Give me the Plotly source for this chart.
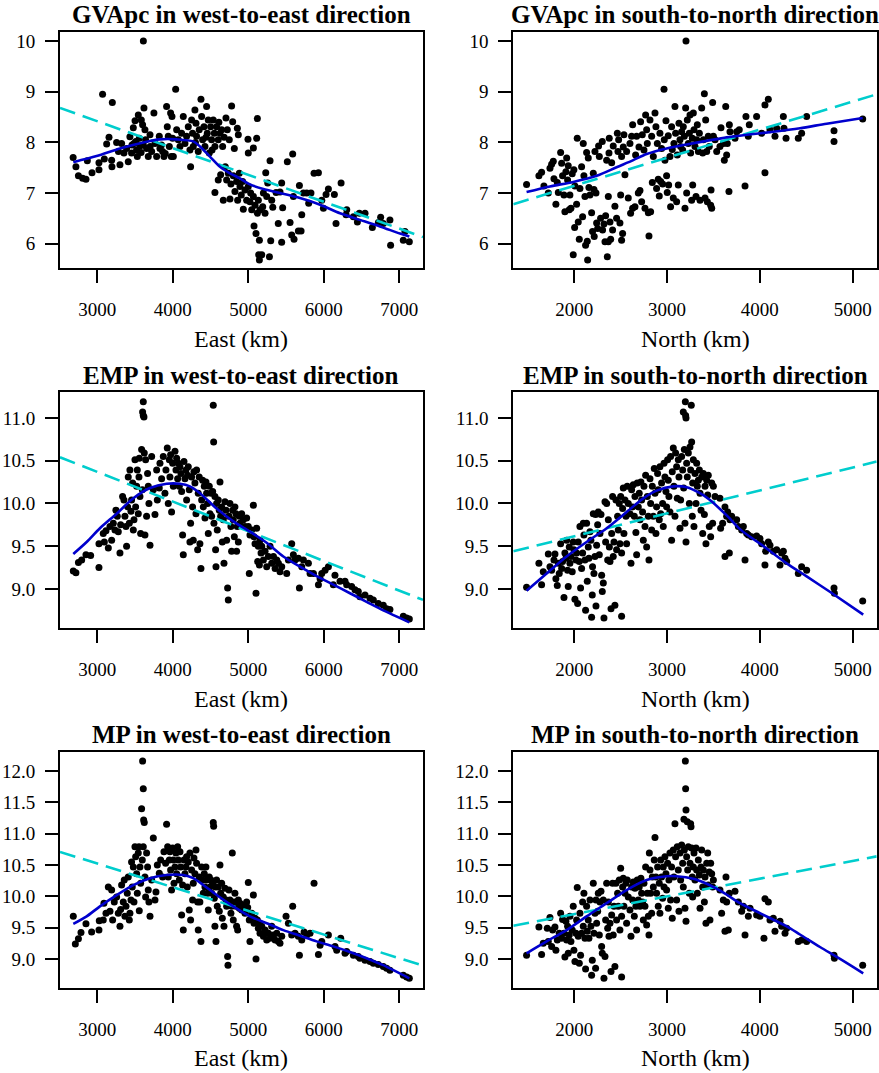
import plotly.graph_objects as go

# ---------------- data ----------------
gva_east = [(2680,7.70),(2717,7.52),(2750,7.34),(2806,7.29),(2850,7.27),(2868,7.64),(2930,7.40),(3022,7.60),(3022,7.46),(3070,8.95),(3093,7.67),(3124,7.97),(3155,8.10),(3190,7.65),(3194,7.52),(3199,8.79),(3256,8.00),(3280,7.82),(3300,7.56),
(3322,7.98),(3353,7.79),(3388,7.88),(3410,7.62),(3432,8.11),(3454,7.79),(3477,8.29),(3486,7.98),(3500,8.43),(3520,7.85),(3530,7.72),(3543,8.54),(3556,8.08),(3565,7.93),(3583,8.44),(3600,8.35),(3610,10.0),(3618,8.68),(3631,8.25),(3640,8.05),(3653,7.88),(3675,7.72),(3698,8.15),(3720,7.82),(3750,8.58),(3764,7.98),(3786,7.72),(3821,8.12),(3830,7.88),(3865,7.82),(3883,7.72),(3918,8.71),(3927,8.31),(3940,8.12),(3954,7.92),(3971,8.58),(3980,7.72),(3989,8.51),(3998,8.08),(4007,7.72),(4038,9.05),
(3460,7.95),(3510,8.02),(3580,7.80),(3610,7.95),(3700,7.92),(3850,7.95),(3900,7.78),
(4051,8.25),(4073,8.05),(4095,7.92),(4117,8.18),(4139,8.51),(4161,7.98),(4183,8.12),(4205,8.31),(4227,7.85),(4236,7.52),(4249,8.44),(4262,8.18),(4271,7.92),(4293,8.64),(4307,8.38),(4315,8.12),(4337,7.82),(4350,8.25),(4373,8.85),(4382,8.51),(4395,8.05),(4413,8.31),(4426,7.92),(4448,8.71),(4457,8.18),(4470,8.44),(4483,7.79),(4501,8.31),(4514,8.05),(4536,8.44),(4550,8.18),(4558,7.92),(4580,8.31),(4602,8.05),(4625,8.18),(4647,8.25),(4660,7.92),(4704,8.48),(4722,8.25),(4748,8.05),(4779,8.72),(4793,8.41),(4815,7.88),(4855,8.28),(4868,8.15),
(4300,8.00),(4440,8.10),(4520,7.85),(4610,8.40),(4680,8.10),
(4558,7.01),(4602,7.26),(4634,7.36),(4669,6.86),(4695,7.52),(4713,7.26),(4735,7.39),(4757,6.88),(4770,7.18),(4801,7.34),(4823,7.03),(4845,7.23),(4859,6.86),(4881,7.39),(4890,7.13),(4907,6.96),(4925,7.23),(4934,6.68),(4956,7.06),(4978,6.86),(5000,7.13),(5022,6.83),(5031,7.00),(5045,6.67),(5067,6.93),(5076,6.35),(5089,6.76),(5102,6.20),(5120,6.60),(5133,6.86),(5147,6.07),(5155,6.67),(5138,5.78),(5147,5.68),(5178,5.78),(5191,6.73),(5200,7.00),(5222,6.60),(5231,7.40),(5244,6.93),(5257,7.20),(5280,5.74),(5288,7.64),(5297,6.06),(5310,6.86),(5324,6.72),(5368,7.01),
(4996,8.06),(5000,7.79),(5067,7.89),(5111,8.08),(5120,8.47),
(5397,6.40),(5420,7.02),(5442,7.20),(5442,6.03),(5455,6.71),(5517,7.62),(5553,6.42),(5575,6.17),(5588,7.77),(5597,6.93),(5606,6.09),(5663,6.25),(5677,7.15),(5699,6.25),(5708,6.57),(5730,7.00),(5774,7.00),(5800,6.80),(5830,7.00),(5871,7.39),(5929,7.40),(5973,6.86),(5995,6.70),(6030,6.97),(6061,7.08),(6140,6.97),(6162,6.40),(6229,7.20),(6295,6.57),(6304,6.67),(6392,6.53),(6445,6.43),(6471,6.60),(6546,6.60),(6643,6.32),(6723,6.42),(6753,6.52),(6788,6.40),(6876,6.47),(6885,5.97),(7053,6.07),(7075,6.24),(7133,6.04)]
gva_east_fit = [10.008, -0.00053]  # intercept, slope
gva_east_smooth = [(2682,7.61),(2991,7.73),(3300,7.88),(3609,8.00),(3830,8.06),(4051,8.06),(4271,8.02),(4360,7.92),(4492,7.72),(4625,7.52),(4757,7.39),(4890,7.29),(5022,7.17),(5200,7.08),(5420,7.00),(5685,6.90),(5950,6.77),(6215,6.60),(6480,6.47),(6744,6.34),(7009,6.20),(7133,6.14)]

gva_north = [(1486,7.17),(1619,7.34),(1648,7.41),(1673,7.14),(1720,7.00),(1738,7.49),(1756,7.57),(1774,7.63),(1781,7.28),(1802,6.78),(1817,7.21),(1828,7.01),(1853,7.80),(1864,7.59),(1874,7.34),(1889,6.96),(1899,6.63),(1910,7.42),(1918,7.69),(1928,7.26),(1935,7.54),(1946,6.67),(1953,6.96),(1964,6.70),(1978,7.38),(1989,5.78),(1996,7.46),(2004,6.32),(2007,7.14),(2025,6.78),(2032,8.08),(2043,6.43),(2054,6.09),(2061,7.09),(2079,7.52),(2090,6.53),(2097,7.98),(2104,7.34),(2115,6.93),(2122,5.97),(2133,7.80),(2140,6.05),(2144,5.68),(2151,7.69),(2158,7.11),(2169,6.96),(2187,6.61),(2197,6.24),(2205,7.39),(2212,7.07),(2215,6.14),(2223,7.82),(2234,7.00),(2241,6.41),(2252,6.30),(2262,7.93),(2270,7.72),(2284,6.50),(2302,8.02),(2305,6.27),(2320,6.39),(2331,6.04),(2338,6.55),(2349,7.65),(2356,5.74),(2367,6.93),(2367,6.04),(2374,7.79),(2377,8.08),(2385,6.43),(2392,6.09),(2403,7.60),(2413,6.27),(2420,7.93),(2438,6.74),(2456,6.50),(2464,8.18),(2471,7.82),(2478,8.05),(2492,6.41),(2500,6.96),(2510,6.07),(2510,7.72),(2521,6.20),(2528,7.91),(2535,8.15),(2546,7.36),(2564,7.82),(2582,6.90),(2600,7.98),(2607,6.60),(2618,8.12),(2629,6.70),(2629,8.35),(2654,6.73),(2661,7.75),(2672,8.12),(2690,7.00),(2697,7.91),(2708,7.05),(2715,8.41),(2726,6.83),(2733,8.15),(2751,7.85),(2762,6.70),(2769,8.54),(2780,8.25),(2787,7.98),(2798,6.61),(2805,6.15),(2816,8.44),(2823,6.63),(2834,8.12),(2841,7.21),(2852,7.72),(2870,8.58),(2880,8.31),(2887,7.09),(2895,7.98),(2905,7.27),(2916,6.94),(2923,8.18),(2931,7.23),(2941,7.88),(2952,7.18),(2967,9.05),(2970,8.05),(2977,7.65),(2988,8.43),(2995,7.34),(3002,7.01),(3013,8.13),(3017,7.16),(3031,7.72),(3038,6.73),(3049,8.31),(3056,7.86),(3067,6.90),(3074,7.98),(3085,8.71),(3092,8.18),(3103,6.83),(3110,7.75),(3121,7.16),(3128,8.38),(3139,8.05),(3146,7.92),(3157,8.21),(3168,7.85),(3175,8.31),(3186,8.12),(3193,6.70),(3200,8.68),(3204,10.0),(3211,7.00),(3218,8.44),(3229,7.98),(3240,8.18),(3247,8.54),(3254,7.79),(3265,6.86),(3272,8.08),(3276,7.16),(3283,8.58),(3290,8.25),(3301,7.92),(3312,6.93),(3319,8.05),(3326,8.35),(3337,7.82),(3348,8.18),(3355,6.86),(3373,8.68),(3384,7.79),(3391,8.05),(3402,8.96),(3409,6.90),(3416,8.44),(3427,7.82),(3434,6.83),(3444,8.12),(3455,7.92),(3470,6.76),(3474,7.06),(3481,6.70),(3491,8.79),(3499,8.12),(3517,8.05),(3535,7.82),(3570,7.92),(3581,8.29),(3607,7.98),(3617,7.65),(3632,8.71),(3642,7.75),(3649,7.98),(3667,7.03),(3671,8.35),(3678,8.21),(3732,8.08),(3750,8.21),(3778,8.25),(3840,7.14),(3850,8.51),(3875,8.12),(3886,8.35),(3965,8.51),(4019,8.18),(4055,7.40),(4055,8.74),(4091,8.85),(4109,8.25),(4163,8.12),(4181,8.28),(4253,8.51),(4260,8.28),(4282,8.08),(4414,8.08),(4450,8.18),(4504,8.51),(4799,8.23),(4799,8.02),(5108,8.46)]
gva_north_fit = [6.036, 0.000554]
gva_north_smooth = [(1486,7.02),(1738,7.13),(1989,7.22),(2241,7.34),(2456,7.51),(2636,7.65),(2780,7.77),(2995,7.88),(3211,7.96),(3426,8.03),(3642,8.10),(3858,8.15),(4145,8.21),(4432,8.28),(4720,8.37),(5108,8.48)]

emp_east = [(2682,9.21),(2717,9.19),(2750,9.31),(2793,9.34),(2850,9.40),(2912,9.39),(3022,9.25),(3022,9.53),(3079,9.65),(3093,9.55),(3115,9.68),(3146,9.48),(3168,9.73),(3190,9.57),(3212,9.77),(3234,9.69),(3247,9.92),(3265,9.85),(3278,9.67),(3300,9.42),(3309,9.75),(3335,10.08),(3353,10.04),(3366,9.85),(3380,9.73),(3388,9.50),(3402,9.96),(3410,10.31),(3424,9.77),(3432,10.39),(3446,9.91),(3454,10.04),(3468,10.24),(3477,9.69),(3486,9.81),(3499,10.51),(3508,9.96),(3521,10.20),(3530,10.39),(3543,9.88),(3552,10.31),(3556,10.53),(3565,10.08),(3574,9.65),(3587,10.63),(3596,10.16),(3600,11.07),(3609,11.19),(3609,11.03),(3618,11.01),(3622,10.59),(3631,9.63),(3640,10.51),(3653,9.85),(3666,10.35),(3675,10.20),(3684,10.00),(3698,9.51),(3720,10.55),(3742,10.16),(3764,9.87),(3786,10.39),(3795,10.04),(3821,10.18),(3830,10.47),(3852,10.29),(3874,10.55),(3896,10.12),(3909,10.39),(3927,10.65),(3940,10.00),(3954,10.51),(3962,10.31),(3971,10.57),(3984,9.90),(3998,10.47),(4007,10.20),(4029,10.61),(4042,10.39),(4051,10.53),(4064,10.29),(4073,10.47),(4086,10.20),(4095,10.43),(4108,10.35),(4117,10.14),(4130,9.63),(4139,9.40),(4148,10.49),(4161,10.29),(4174,10.39),(4183,10.04),(4196,10.33),(4205,10.43),(4218,10.16),(4227,9.55),(4236,9.77),(4249,10.31),(4262,9.96),(4271,9.57),(4280,10.37),(4293,10.24),(4307,9.88),(4315,10.39),(4329,9.46),(4337,10.12),(4350,10.31),(4359,9.53),(4373,9.24),(4382,10.04),(4395,10.27),(4404,9.96),(4417,10.20),(4426,9.83),(4439,10.25),(4448,10.12),(4461,10.00),(4470,9.65),(4483,10.20),(4492,9.88),(4506,10.12),(4514,9.85),(4528,10.14),(4536,11.15),(4541,10.72),(4545,9.77),(4558,10.08),(4567,9.46),(4572,9.26),(4580,10.00),(4589,9.69),(4602,10.04),(4616,9.92),(4625,10.25),(4634,9.85),(4647,9.96),(4656,9.55),(4669,9.81),(4678,9.30),(4691,10.02),(4704,9.92),(4713,9.57),(4726,9.01),(4735,8.87),(4744,9.85),(4757,10.00),(4770,9.73),(4779,9.44),(4793,9.92),(4801,9.81),(4815,9.61),(4823,9.96),(4837,9.88),(4845,9.44),(4854,9.73),(4868,9.55),(4881,9.85),(4890,9.77),(4912,9.88),(4934,9.81),(4956,9.73),(4978,9.83),(5000,9.73),(5013,9.18),(5022,9.63),(5045,9.69),(5067,9.98),(5076,9.61),(5089,9.53),(5102,8.95),(5111,9.71),(5124,9.32),(5133,9.50),(5147,9.28),(5155,9.57),(5169,9.42),(5178,9.50),(5200,9.34),(5222,9.44),(5244,9.26),(5266,9.38),(5288,9.50),(5310,9.30),(5333,9.38),(5355,9.24),(5377,9.34),(5399,9.30),(5420,9.20),(5443,9.26),(5509,9.18),(5531,9.34),(5575,9.53),(5597,9.40),(5619,9.34),(5663,9.36),(5677,9.01),(5708,9.26),(5730,9.34),(5796,9.30),(5818,9.18),(5863,9.18),(5929,9.05),(5951,9.12),(5973,9.18),(6017,9.22),(6061,9.26),(6126,9.05),(6148,9.16),(6215,9.09),(6281,9.09),(6303,9.05),(6369,9.03),(6413,8.99),(6457,8.97),(6479,8.91),(6546,8.93),(6612,8.89),(6656,8.87),(6722,8.83),(6788,8.81),(6832,8.77),(6876,8.76),(7053,8.68),(7097,8.66),(7133,8.65)]
emp_east_fit = [11.41, -0.000347]
emp_east_smooth = [(2682,9.41),(2859,9.55),(3035,9.71),(3256,9.88),(3477,10.06),(3698,10.18),(3918,10.23),(4095,10.23),(4227,10.20),(4360,10.12),(4581,9.94),(4801,9.79),(5022,9.67),(5243,9.54),(5464,9.38),(5685,9.26),(5905,9.15),(6126,9.05),(6347,8.95),(6567,8.85),(6788,8.75),(7133,8.61)]

emp_north = [(1486,9.02),(1619,9.30),(1648,9.05),(1666,9.20),(1720,9.41),(1738,9.26),(1756,9.22),(1781,9.34),(1792,9.41),(1802,9.12),(1817,9.04),(1828,9.30),(1838,9.18),(1853,9.53),(1864,9.24),(1874,9.32),(1889,8.90),(1899,9.42),(1910,9.36),(1918,9.57),(1928,9.22),(1935,9.03),(1946,9.49),(1953,9.30),(1964,9.38),(1978,9.20),(1989,9.55),(1996,9.46),(2007,8.88),(2018,9.34),(2025,9.42),(2036,8.83),(2043,9.55),(2054,9.32),(2061,9.73),(2068,9.01),(2079,9.24),(2090,9.42),(2097,9.77),(2104,9.63),(2115,9.34),(2122,8.75),(2133,9.77),(2140,9.09),(2151,9.49),(2158,9.36),(2169,9.67),(2179,9.57),(2187,8.67),(2194,8.93),(2197,9.26),(2205,9.88),(2212,9.18),(2223,9.38),(2230,9.87),(2234,8.80),(2241,9.51),(2252,9.75),(2259,9.90),(2270,9.40),(2277,9.65),(2288,9.87),(2295,9.16),(2302,8.97),(2313,9.07),(2320,8.66),(2331,10.02),(2338,9.55),(2349,10.00),(2360,9.34),(2367,9.81),(2378,9.49),(2385,9.32),(2396,8.77),(2403,9.65),(2413,10.08),(2420,9.38),(2428,9.55),(2438,8.81),(2449,10.04),(2456,9.46),(2467,9.85),(2474,9.69),(2485,10.00),(2492,9.53),(2500,10.08),(2510,9.42),(2510,8.68),(2521,9.94),(2528,10.18),(2535,9.65),(2546,10.04),(2557,9.85),(2564,9.53),(2571,10.20),(2582,10.00),(2600,9.88),(2611,9.30),(2618,10.16),(2629,9.96),(2636,10.22),(2647,9.85),(2654,10.08),(2664,9.66),(2672,9.40),(2679,10.24),(2690,9.96),(2700,10.12),(2708,9.81),(2718,10.25),(2726,10.04),(2736,9.90),(2744,9.57),(2751,10.20),(2762,9.73),(2769,10.33),(2780,9.49),(2787,10.08),(2798,9.85),(2805,9.34),(2816,10.29),(2823,10.00),(2834,9.69),(2841,10.20),(2852,9.85),(2862,10.41),(2870,10.12),(2880,9.65),(2887,9.96),(2898,10.35),(2905,10.16),(2916,9.81),(2923,10.43),(2931,9.88),(2941,10.24),(2952,10.00),(2959,9.73),(2967,10.47),(2977,10.31),(2988,10.14),(2995,9.96),(3006,10.51),(3013,10.27),(3020,10.08),(3031,9.90),(3038,10.55),(3049,9.57),(3056,10.37),(3067,10.65),(3074,10.20),(3085,9.85),(3092,10.59),(3103,10.43),(3110,10.06),(3121,10.51),(3128,10.31),(3139,9.71),(3146,10.04),(3157,10.55),(3168,10.39),(3175,11.07),(3179,10.18),(3186,10.63),(3193,9.77),(3197,11.19),(3200,11.03),(3204,11.00),(3204,9.55),(3211,10.47),(3218,10.31),(3229,10.59),(3240,10.00),(3247,10.66),(3254,10.39),(3261,11.15),(3265,10.72),(3272,9.85),(3276,10.24),(3283,10.51),(3290,9.73),(3301,10.35),(3312,10.00),(3319,10.47),(3326,10.20),(3337,10.27),(3348,10.39),(3355,10.12),(3366,9.92),(3373,10.31),(3384,9.65),(3391,10.35),(3402,9.87),(3409,10.20),(3419,9.53),(3427,10.27),(3438,10.10),(3444,10.33),(3455,9.73),(3470,9.61),(3481,10.24),(3491,9.77),(3499,10.20),(3517,10.08),(3570,10.06),(3577,9.71),(3599,9.77),(3624,9.96),(3624,9.38),(3642,9.85),(3653,9.90),(3671,9.42),(3678,9.81),(3696,9.85),(3750,9.81),(3768,9.73),(3804,9.69),(3822,9.73),(3840,9.34),(3858,9.65),(3876,9.63),(3911,9.61),(3965,9.62),(4001,9.59),(4019,9.53),(4055,9.28),(4062,9.44),(4091,9.55),(4109,9.51),(4145,9.44),(4181,9.46),(4217,9.28),(4235,9.42),(4253,9.44),(4271,9.36),(4289,9.32),(4414,9.18),(4450,9.26),(4504,9.22),(4799,9.01),(4803,8.95),(5108,8.86)]
emp_north_fit = [9.08, 0.000268]
emp_north_smooth = [(1486,8.98),(1702,9.18),(1917,9.38),(2133,9.55),(2349,9.71),(2564,9.90),(2744,10.06),(2887,10.15),(3067,10.20),(3211,10.19),(3355,10.12),(3462,10.04),(3642,9.86),(3786,9.70),(3893,9.61),(4001,9.53),(4289,9.30),(4500,9.15),(4750,8.97),(5114,8.70)]

mp_east = [(2682,9.68),(2709,9.24),(2750,9.32),(2784,9.42),(2850,9.56),(2925,9.43),(3022,9.46),(3026,9.61),(3079,9.62),(3088,9.89),(3115,9.73),(3146,10.15),(3168,9.76),(3190,10.10),(3203,9.62),(3225,9.91),(3256,9.99),(3278,9.73),(3300,9.52),(3309,9.79),(3322,10.18),(3344,9.91),(3357,10.26),(3366,9.68),(3380,9.84),(3397,10.05),(3410,10.31),(3424,9.62),(3432,9.73),(3446,9.94),(3454,10.55),(3463,10.15),(3477,10.47),(3486,9.91),(3499,10.79),(3508,10.63),(3521,10.36),(3530,10.05),(3543,10.69),(3552,10.79),(3565,10.47),(3574,10.21),(3556,9.77),(3587,11.40),(3596,10.58),(3600,12.16),(3609,11.72),(3614,11.22),(3622,11.18),(3609,10.79),(3631,10.31),(3640,9.99),(3653,10.69),(3666,10.47),(3675,10.10),(3684,9.91),(3698,9.68),(3720,10.26),(3742,10.93),(3764,9.94),(3777,10.07),(3795,10.50),(3821,10.37),(3839,10.58),(3865,10.31),(3883,10.71),(3905,10.53),(3918,11.15),(3932,10.79),(3940,10.31),(3954,10.58),(3962,10.71),(3971,10.42),(3984,10.10),(3998,10.77),(4007,10.58),(4016,10.21),(4029,10.47),(4042,10.69),(4051,10.36),(4064,10.79),(4073,10.58),(4086,10.26),(4095,10.71),(4104,10.47),(4117,9.70),(4130,10.18),(4139,9.46),(4148,10.58),(4161,10.36),(4174,10.47),(4183,10.63),(4192,10.15),(4205,10.55),(4218,9.78),(4227,10.69),(4236,9.62),(4249,10.42),(4262,9.94),(4271,10.21),(4280,10.61),(4293,10.36),(4307,10.74),(4315,10.53),(4329,9.91),(4337,9.46),(4350,10.31),(4359,9.91),(4373,9.28),(4382,10.47),(4395,10.26),(4404,10.05),(4417,10.36),(4426,10.15),(4439,10.47),(4448,10.26),(4461,10.05),(4470,9.78),(4483,10.31),(4492,10.15),(4506,10.26),(4514,10.05),(4528,10.21),(4536,11.18),(4541,11.12),(4550,9.97),(4558,9.52),(4567,10.15),(4572,9.28),(4580,10.26),(4589,9.84),(4602,10.15),(4616,9.76),(4625,10.50),(4634,10.05),(4647,10.21),(4656,9.65),(4669,9.99),(4678,9.52),(4691,10.13),(4704,9.94),(4713,9.84),(4726,9.04),(4731,8.90),(4744,10.10),(4757,9.94),(4770,9.73),(4779,9.84),(4788,10.69),(4801,9.62),(4815,9.91),(4823,10.05),(4837,9.84),(4845,9.52),(4859,9.46),(4868,9.94),(4881,9.81),(4890,9.89),(4912,9.78),(4934,9.86),(4956,9.73),(4978,9.91),(4992,9.82),(5000,10.22),(5013,9.62),(5022,9.28),(5045,9.73),(5067,10.02),(5076,9.57),(5089,9.65),(5102,9.00),(5120,9.62),(5133,9.49),(5147,9.57),(5155,9.41),(5178,9.52),(5200,9.36),(5222,9.46),(5244,9.30),(5266,9.41),(5288,9.33),(5310,9.52),(5333,9.38),(5355,9.30),(5377,9.41),(5399,9.28),(5420,9.25),(5443,9.36),(5500,9.68),(5531,9.57),(5575,9.38),(5588,9.84),(5619,9.41),(5663,9.36),(5677,9.06),(5708,9.30),(5739,9.43),(5774,9.38),(5818,9.41),(5871,10.21),(5929,9.07),(5951,9.22),(5973,9.28),(6061,9.38),(6149,9.20),(6171,9.14),(6224,9.33),(6281,9.09),(6303,9.12),(6392,9.06),(6457,9.04),(6479,9.01),(6546,8.98),(6612,8.96),(6656,8.93),(6722,8.91),(6788,8.88),(6832,8.85),(6876,8.82),(7053,8.74),(7097,8.71),(7133,8.69)]
mp_east_fit = [11.657, -0.000378]
mp_east_smooth = [(2682,9.56),(2859,9.68),(3035,9.84),(3256,10.02),(3477,10.18),(3698,10.29),(3918,10.34),(4139,10.34),(4271,10.29),(4404,10.18),(4580,10.02),(4801,9.84),(5022,9.68),(5244,9.57),(5464,9.46),(5685,9.37),(5905,9.28),(6126,9.20),(6347,9.11),(6567,9.01),(6788,8.90),(7133,8.69)]

mp_north = [(1486,9.06),(1619,9.51),(1648,9.07),(1666,9.25),(1709,9.49),(1720,9.28),(1738,9.66),(1756,9.20),(1767,9.46),(1792,9.51),(1802,9.14),(1817,9.30),(1838,9.41),(1853,9.73),(1864,9.33),(1874,9.63),(1889,9.41),(1899,9.03),(1910,9.60),(1918,9.30),(1928,9.52),(1935,9.09),(1946,9.38),(1953,9.68),(1964,9.28),(1978,9.46),(1989,9.84),(1996,9.14),(2007,8.96),(2018,9.41),(2025,9.62),(2032,10.14),(2043,9.36),(2054,8.93),(2061,9.73),(2068,9.06),(2079,9.41),(2090,9.91),(2097,9.52),(2104,10.05),(2115,9.33),(2122,8.84),(2133,9.84),(2140,9.44),(2151,9.62),(2158,9.33),(2169,9.94),(2179,9.52),(2187,8.74),(2194,8.98),(2205,10.21),(2212,9.41),(2223,9.73),(2230,8.85),(2234,9.94),(2241,9.57),(2252,9.76),(2259,10.05),(2270,9.38),(2277,9.91),(2288,10.08),(2295,9.20),(2302,9.09),(2313,9.94),(2320,8.69),(2331,9.04),(2338,9.62),(2349,10.21),(2360,9.49),(2367,9.91),(2374,9.36),(2385,9.57),(2396,8.80),(2403,9.70),(2413,10.21),(2420,9.38),(2428,9.84),(2438,8.88),(2449,10.21),(2456,9.62),(2467,10.05),(2474,9.84),(2485,10.26),(2492,9.46),(2500,10.45),(2510,8.71),(2510,9.68),(2521,10.15),(2528,10.29),(2535,9.84),(2546,10.05),(2557,10.21),(2564,9.57),(2571,10.26),(2582,9.99),(2600,9.78),(2611,9.36),(2618,10.15),(2629,9.94),(2636,10.23),(2647,9.68),(2654,10.13),(2664,9.84),(2672,9.46),(2679,10.26),(2690,9.94),(2700,10.15),(2708,9.84),(2718,10.29),(2726,10.05),(2736,9.91),(2744,9.62),(2751,10.21),(2762,9.84),(2769,10.47),(2780,9.54),(2787,10.05),(2798,9.68),(2805,9.38),(2809,10.69),(2816,10.42),(2823,10.05),(2834,9.73),(2841,10.31),(2852,10.15),(2862,10.58),(2870,10.94),(2880,10.31),(2887,10.05),(2898,10.47),(2905,9.84),(2916,10.21),(2923,9.73),(2931,10.58),(2941,10.31),(2952,9.97),(2959,10.47),(2967,10.15),(2977,10.63),(2988,10.36),(2995,10.10),(3006,10.53),(3013,9.81),(3020,10.26),(3031,10.69),(3038,9.94),(3049,10.47),(3056,9.65),(3067,10.74),(3074,10.31),(3085,11.16),(3092,10.63),(3103,9.94),(3110,10.79),(3121,10.42),(3128,9.76),(3139,10.69),(3146,10.26),(3157,10.82),(3168,10.53),(3175,10.15),(3182,11.23),(3186,10.74),(3193,9.81),(3197,12.16),(3200,11.72),(3204,11.38),(3204,9.60),(3211,10.63),(3218,11.19),(3222,10.42),(3229,10.79),(3240,10.05),(3247,10.53),(3254,11.16),(3258,11.11),(3265,10.77),(3272,10.31),(3276,9.99),(3283,10.47),(3290,10.69),(3301,10.26),(3312,10.77),(3319,10.42),(3326,10.05),(3337,10.58),(3348,10.34),(3355,9.81),(3366,10.47),(3373,10.74),(3384,10.15),(3391,10.42),(3402,9.91),(3409,10.31),(3419,9.57),(3427,10.53),(3438,10.69),(3444,10.18),(3455,10.39),(3462,9.62),(3470,10.53),(3481,10.36),(3491,10.15),(3499,10.26),(3570,10.10),(3588,9.73),(3606,9.94),(3624,9.44),(3635,10.31),(3642,9.91),(3660,9.46),(3671,10.05),(3732,10.08),(3768,9.91),(3804,9.76),(3822,9.84),(3840,9.38),(3876,9.68),(3894,9.81),(3965,9.70),(4001,9.68),(4044,9.33),(4055,9.96),(4091,9.91),(4109,9.62),(4145,9.65),(4163,9.44),(4217,9.60),(4235,9.52),(4271,9.41),(4289,9.49),(4414,9.28),(4450,9.30),(4504,9.28),(4799,9.06),(4803,9.01),(5108,8.90)]
mp_north_fit = [9.15, 0.000283]
mp_north_smooth = [(1486,9.09),(1702,9.28),(1917,9.46),(2133,9.68),(2349,9.89),(2564,10.10),(2780,10.26),(2995,10.32),(3103,10.32),(3283,10.28),(3427,10.20),(3607,10.06),(3786,9.89),(4001,9.73),(4289,9.52),(4432,9.39),(4648,9.19),(4864,9.00),(5114,8.77)]

titles = ["GVApc in west-to-east direction", "GVApc in south-to-north direction",
          "EMP in west-to-east direction", "EMP in south-to-north direction",
          "MP in west-to-east direction", "MP in south-to-north direction"]
xlabels = ["East (km)", "North (km)"] * 3
east_ticks = [3000, 4000, 5000, 6000, 7000]
north_ticks = [2000, 3000, 4000, 5000]
gva_ticks = [6, 7, 8, 9, 10]
emp_ticks = [9.0, 9.5, 10.0, 10.5, 11.0]
mp_ticks = [9.0, 9.5, 10.0, 10.5, 11.0, 11.5, 12.0]

# ---------------- layout geometry ----------------
W, H = 879, 1073
FONT = "Liberation Serif, Times New Roman, serif"
col_px = [(60, 423), (513.3, 876.7)]
row_px = [(32, 268), (392.3, 628.3), (751.7, 987.7)]
xranges = [(2506, 7314), (1343, 5259)]
yranges = [(5.52, 10.18), (8.54, 11.30), (8.54, 12.31)]

panels = [
    (gva_east, gva_east_fit, gva_east_smooth, east_ticks, gva_ticks, "d"),
    (gva_north, gva_north_fit, gva_north_smooth, north_ticks, gva_ticks, "d"),
    (emp_east, emp_east_fit, emp_east_smooth, east_ticks, emp_ticks, ".1f"),
    (emp_north, emp_north_fit, emp_north_smooth, north_ticks, emp_ticks, ".1f"),
    (mp_east, mp_east_fit, mp_east_smooth, east_ticks, mp_ticks, ".1f"),
    (mp_north, mp_north_fit, mp_north_smooth, north_ticks, mp_ticks, ".1f"),
]

fig = go.Figure()
layout = dict(width=W, height=H, margin=dict(l=0, r=0, t=0, b=0),
              paper_bgcolor="white", plot_bgcolor="white", showlegend=False,
              font=dict(family=FONT, color="black"), hovermode=False)
annotations = []

for i, (pts, fit, smooth, xt, yt, yfmt) in enumerate(panels):
    r, c = divmod(i, 2)
    n = "" if i == 0 else str(i + 1)
    xa, ya = "x" + n, "y" + n
    x0, x1 = xranges[c]
    xs = [p[0] for p in pts]
    ys = [p[1] for p in pts]
    fig.add_trace(go.Scatter(x=xs, y=ys, mode="markers", xaxis=xa, yaxis=ya,
                             marker=dict(color="black", size=7, line=dict(width=0)),
                             hoverinfo="skip"))
    fig.add_trace(go.Scatter(x=[x0, x1], y=[fit[0] + fit[1] * x0, fit[0] + fit[1] * x1],
                             mode="lines", xaxis=xa, yaxis=ya,
                             line=dict(color="#00CDCD", width=2.6, dash="16px,8px"),
                             hoverinfo="skip"))
    fig.add_trace(go.Scatter(x=[p[0] for p in smooth], y=[p[1] for p in smooth],
                             mode="lines", xaxis=xa, yaxis=ya, line_shape="spline",
                             line=dict(color="#0000CD", width=2.6, smoothing=0.8),
                             hoverinfo="skip"))

    cl, cr = col_px[c]
    rt, rb = row_px[r]
    common = dict(showline=True, mirror=True, linecolor="black", linewidth=2,
                  ticks="outside", ticklen=13, tickwidth=2, tickcolor="black",
                  showgrid=False, zeroline=False,
                  tickfont=dict(family=FONT, size=19, color="black"))
    layout["xaxis" + n] = dict(domain=[cl / W, cr / W], range=list(xranges[c]),
                               anchor=ya, tickvals=xt, ticklabelstandoff=10, **common)
    layout["yaxis" + n] = dict(domain=[1 - rb / H, 1 - rt / H], range=list(yranges[r]),
                               anchor=xa, tickvals=yt, tickformat=yfmt,
                               ticklabelstandoff=6, **common)
    cx = (cl + cr) / 2 / W
    annotations.append(dict(text="<b>" + titles[i] + "</b>", x=cx, y=1 - (rt - 17) / H,
                            xref="paper", yref="paper", xanchor="center", yanchor="middle",
                            showarrow=False, font=dict(family=FONT, size=25, color="black")))
    annotations.append(dict(text=xlabels[i], x=cx, y=1 - (rb + 70.6) / H,
                            xref="paper", yref="paper", xanchor="center", yanchor="middle",
                            showarrow=False, font=dict(family=FONT, size=24, color="black")))

layout["annotations"] = annotations
fig.update_layout(**layout)
fig.write_html("out.html", config={"displayModeBar": False, "staticPlot": True},
               post_script="document.body.style.margin='0';document.body.style.padding='0';")
